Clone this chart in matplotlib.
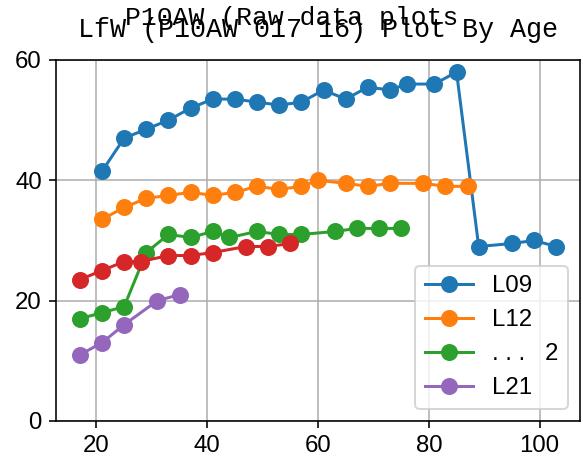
import matplotlib
matplotlib.use("Agg")
import matplotlib.pyplot as plt

plt.rcParams['font.family'] = ['Liberation Sans', 'DejaVu Sans']

# ages and values
age_l09 = [21, 25, 29, 33, 37, 41, 45, 49, 53, 57, 61, 65, 69, 73, 76, 81, 85, 89, 95, 99, 103]
val_l09 = [41.5, 47, 48.5, 50, 52, 53.5, 53.5, 53, 52.5, 53, 55, 53.5, 55.5, 55, 56, 56, 58, 29, 29.5, 30, 29]

age_l12 = [21, 25, 29, 33, 37, 41, 45, 49, 53, 57, 60, 65, 69, 73, 79, 83, 87]
val_l12 = [33.5, 35.5, 37, 37.5, 38, 37.5, 38, 39, 38.5, 39, 40, 39.5, 39, 39.5, 39.5, 39, 39]

age_g = [17, 21, 25, 29, 33, 37, 41, 44, 49, 53, 57, 63, 67, 71, 75]
val_g = [17, 18, 19, 28, 31, 30.5, 31.5, 30.5, 31.5, 31, 31, 31.5, 32, 32, 32]

age_r = [17, 21, 25, 28, 33, 37, 41, 47, 51, 55]
val_r = [23.5, 25, 26.5, 26.5, 27.5, 27.5, 28, 29, 29, 29.5]

age_l21 = [17, 21, 25, 31, 35]
val_l21 = [11, 13, 16, 20, 21]

labels = ['L09', 'L12', '. . .   2', '_nolegend_', 'L21']

fig = plt.figure(figsize=(583/144, 464/144), dpi=144)
ax = fig.add_axes([0.096, 0.0927, 0.899, 0.778])

ms = 7.5
ax.plot(age_l09, val_l09, 'o-', color='C0', ms=ms, label=labels[0])
ax.plot(age_l12, val_l12, 'o-', color='C1', ms=ms, label=labels[1])
ax.plot(age_g, val_g, 'o-', color='C2', ms=ms, label=labels[2])
ax.plot(age_r, val_r, 'o-', color='C3', ms=ms, label=labels[3])
ax.plot(age_l21, val_l21, 'o-', color='C4', ms=ms, label=labels[4])

ax.set_ylim(0, 60)
ax.set_yticks([0, 20, 40, 60])
ax.set_xticks([20, 40, 60, 80, 100])
ax.tick_params(labelsize=12)
ax.grid(True)
ax.legend(loc='lower right', fontsize=12)

# the two titles overlap in the original too
ax.set_title('LfW (P10AW 017 16) Plot By Age', family='Liberation Mono', fontsize=13.4, pad=11.5)
fig.text(0.5, 1 - 25/464, 'P10AW (Raw data plots', family='Liberation Mono', fontsize=13.2,
         ha='center', va='baseline')

fig.savefig('out.png', dpi=144)
